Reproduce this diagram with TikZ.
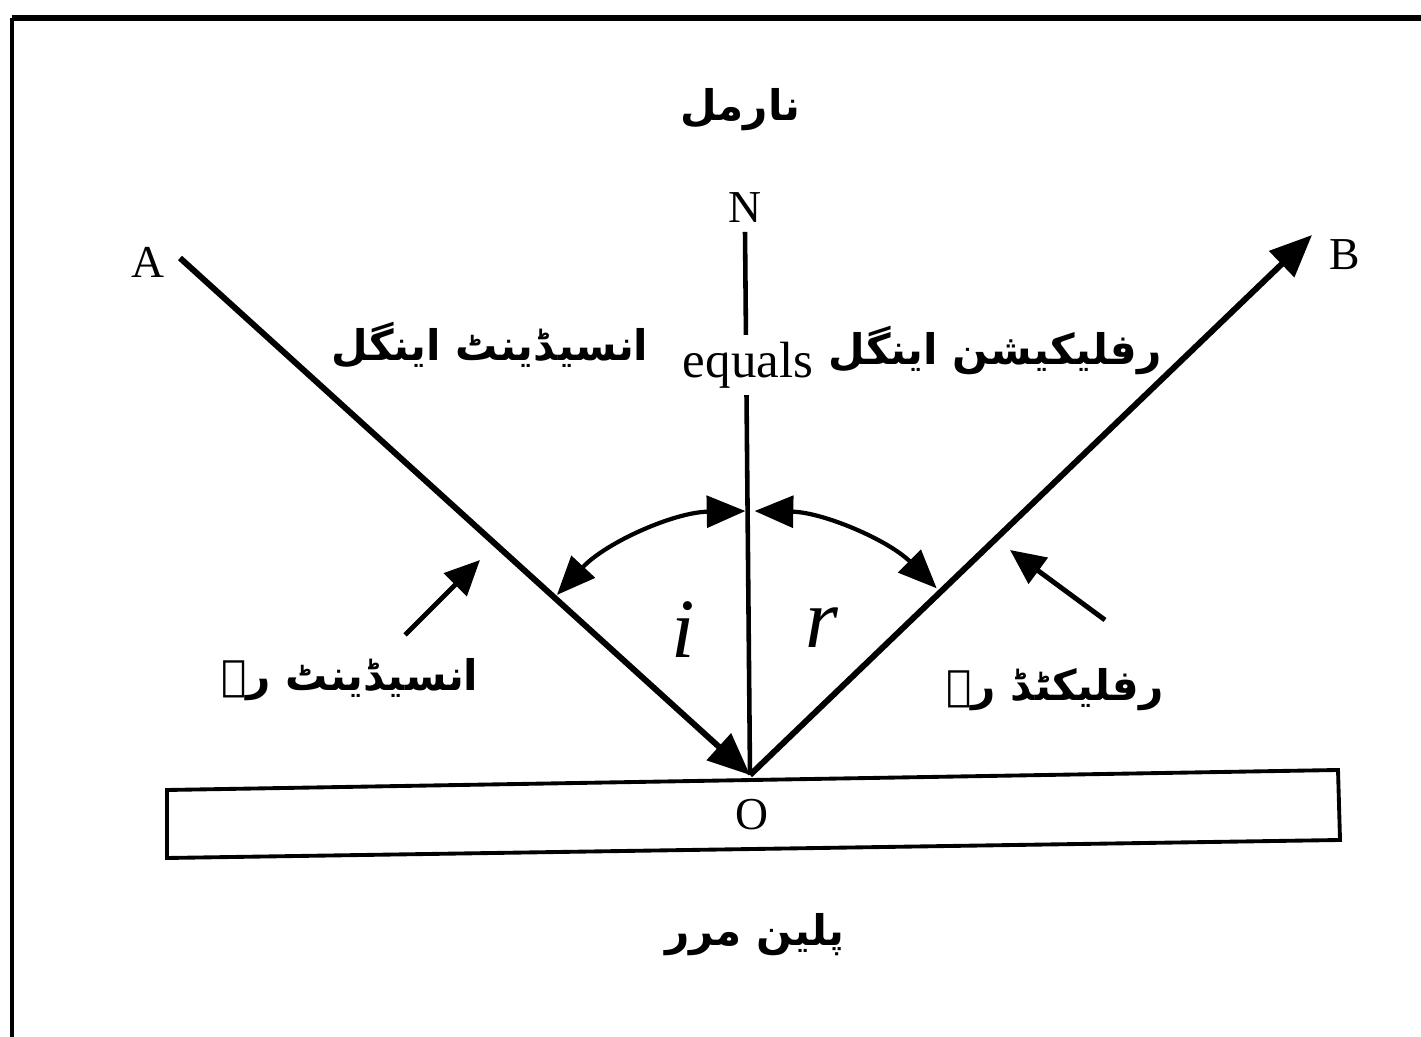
\documentclass[tikz,border=0pt]{standalone}
\usepackage{fontspec}
\setmainfont{Liberation Serif}
\newfontfamily\urdufont[Script=Arabic]{DejaVu Sans}
\TeXXeTstate=1
\usepackage{tikz}
\usetikzlibrary{arrows.meta}
\newcommand{\urtext}[1]{{\urdufont\beginR #1\endR}}
\tikzset{
  ray/.style={line width=1.7pt, -{Triangle[length=12pt,width=10pt]}},
  angarc/.style={line width=1.2pt, {Triangle[length=11pt,width=9pt]}-{Triangle[length=11pt,width=9pt]}},
  pointer/.style={line width=1.4pt, -{Triangle[length=10pt,width=9pt]}},
  lbl/.style={font=\fontsize{13}{15}\selectfont},
  urlbl/.style={font=\fontsize{12}{15}\selectfont\bfseries},
}
\begin{document}
\begin{tikzpicture}
\useasboundingbox (0,0) rectangle (14.21,10.37);
% frame
\draw[line width=1.6pt] (0.12,10.19) -- (14.21,10.19);
\draw[line width=1pt] (0.12,10.19) -- (0.12,0);
% points
\coordinate (O) at (7.50,2.62);
\coordinate (Aend) at (1.80,7.79);
\coordinate (Bend) at (13.12,8.02);
\coordinate (Ntop) at (7.45,8.05);
% mirror
\draw[line width=1.1pt] (1.67,2.47) -- (13.38,2.67) -- (13.40,1.97) -- (1.67,1.79) -- cycle;
% normal and rays
\draw[line width=1.3pt] (Ntop) -- (O);
\draw[ray] (Aend) -- (O);
\draw[ray] (O) -- (Bend);
% angles
\draw[angarc] (O) ++(137:2.64) arc[start angle=137, end angle=91, radius=2.64];
\draw[angarc] (O) ++(89:2.64) arc[start angle=89, end angle=45, radius=2.64];
% labels
\node[lbl] (A) at (1.48,7.75) {A};
\node[lbl] (B) at (13.45,7.82) {B};
\node[lbl] (N) at (7.45,8.29) {N};
\node[lbl] (Olbl) at (7.52,2.22) {O};
\node[fill=white, inner sep=2pt, font=\fontsize{14.5}{17}\selectfont] (eq) at (7.48,6.72) {equals};
\node[font=\fontsize{24}{28}\selectfont\itshape] (i) at (6.83,4.07) {i};
\node[font=\fontsize{24}{28}\selectfont\itshape] (r) at (8.22,4.09) {r};
\node[urlbl] (normal) at (7.40,9.27) {\urtext{نارمل}};
\node[urlbl] (incang) at (4.90,6.92) {\urtext{انسیڈینٹ اینگل}};
\node[urlbl] (refang) at (9.95,6.87) {\urtext{رفلیکیشن اینگل}};
\node[urlbl] (incray) at (3.50,3.57) {\urtext{انسیڈینٹ رے}};
\node[urlbl] (refray) at (10.55,3.47) {\urtext{رفلیکٹڈ رے}};
\node[urlbl] (mirror) at (7.55,1.02) {\urtext{پلین مرر}};
% pointers
\coordinate (pl) at (4.05,4.02);
\coordinate (pr) at (11.05,4.17);
\draw[pointer] (pl) -- (4.80,4.77);
\draw[pointer] (pr) -- (10.10,4.87);
\end{tikzpicture}
\end{document}
